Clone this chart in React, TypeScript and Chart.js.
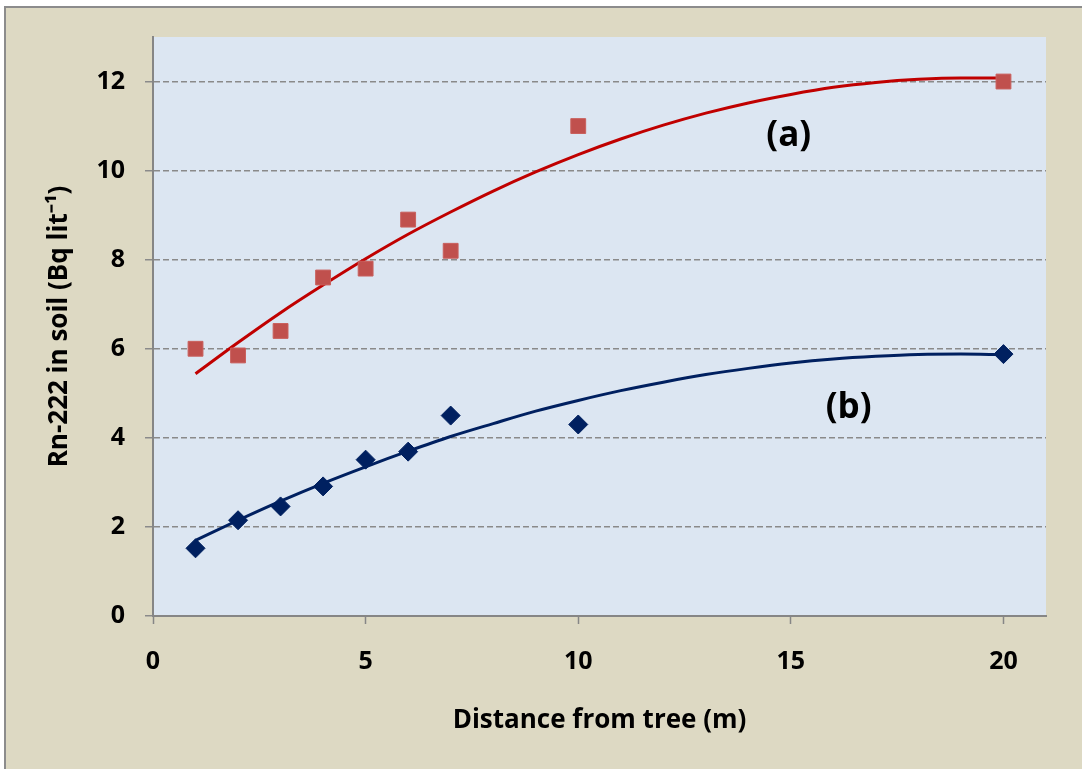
import React, { useEffect, useRef } from "react";
import { Chart, registerables } from "chart.js";

Chart.register(...registerables);

// Measured data points
const xA = [1, 2, 3, 4, 5, 6, 7, 10, 20];
const yA = [6.0, 5.85, 6.4, 7.6, 7.8, 8.9, 8.2, 11.0, 12.0];
const xB = [1, 2, 3, 4, 5, 6, 7, 10, 20];
const yB = [1.52, 2.15, 2.46, 2.91, 3.51, 3.69, 4.5, 4.3, 5.88];

// Trend curves
const trendX = [1, 2, 3, 4, 5, 6, 7, 8, 9, 10, 11, 12, 13, 14, 15, 16, 17, 18, 19, 20];
const trendA = [5.44, 6.14, 6.81, 7.43, 8.02, 8.57, 9.07, 9.54, 9.97, 10.36, 10.71, 11.02, 11.29, 11.52, 11.71, 11.87, 11.98, 12.05, 12.08, 12.08];
const trendB = [1.7, 2.15, 2.58, 2.98, 3.35, 3.7, 4.03, 4.32, 4.6, 4.84, 5.06, 5.25, 5.42, 5.56, 5.68, 5.77, 5.83, 5.87, 5.88, 5.87];

// Curve labels
const labelText = ["(a)", "(b)"];
const labelX = [14.95, 16.36];
const labelY = [10.78, 4.66];

const yTitle = "Rn-222 in soil (Bq lit\u207B\u00B9)";
const xTitle = "Distance from tree (m)";

const FONT = "'Open Sans'";

export default function App() {
  const ref = useRef<HTMLCanvasElement>(null);

  useEffect(() => {
    if (!ref.current) return;
    const bgPlugin = {
      id: "bg",
      beforeDraw(chart: any) {
        const { ctx, chartArea } = chart;
        ctx.save();
        ctx.fillStyle = "#ddd9c3";
        ctx.fillRect(0, 0, chart.width, chart.height);
        ctx.fillStyle = "#dce6f2";
        ctx.fillRect(chartArea.left, chartArea.top, chartArea.right - chartArea.left, chartArea.bottom - chartArea.top);
        ctx.restore();
      },
    };
    const labelPlugin = {
      id: "lbl",
      afterDatasetsDraw(chart: any) {
        const { ctx } = chart;
        const xs = chart.scales.x;
        const ys = chart.scales.y;
        ctx.save();
        ctx.font = `bold 35px ${FONT}`;
        ctx.fillStyle = "#000";
        ctx.textAlign = "center";
        ctx.textBaseline = "middle";
        labelText.forEach((t, i) => {
          ctx.fillText(t, xs.getPixelForValue(labelX[i]), ys.getPixelForValue(labelY[i]));
        });
        ctx.restore();
      },
    };

    const tickFont = { family: FONT, size: 25, weight: "bold" as const };
    const titleFont = { family: FONT, size: 26, weight: "bold" as const };

    const chart = new Chart(ref.current, {
      type: "scatter",
      data: {
        datasets: [
          {
            label: "a",
            data: xA.map((x, i) => ({ x, y: yA[i] })),
            pointStyle: "rect",
            pointRadius: 10.5,
            backgroundColor: "#c0504d",
            borderColor: "#c9605d",
            borderWidth: 1,
            showLine: false,
            order: 0,
          },
          {
            label: "b",
            data: xB.map((x, i) => ({ x, y: yB[i] })),
            pointStyle: "rectRot",
            pointRadius: 9.5,
            backgroundColor: "#002060",
            borderColor: "#002060",
            borderWidth: 1,
            showLine: false,
            order: 0,
          },
          {
            label: "trend a",
            data: trendX.map((x, i) => ({ x, y: trendA[i] })),
            showLine: true,
            pointRadius: 0,
            borderColor: "#c00000",
            borderWidth: 3,
            cubicInterpolationMode: "monotone",
            order: 2,
          },
          {
            label: "trend b",
            data: trendX.map((x, i) => ({ x, y: trendB[i] })),
            showLine: true,
            pointRadius: 0,
            borderColor: "#002060",
            borderWidth: 3,
            cubicInterpolationMode: "monotone",
            order: 2,
          },
        ],
      },
      options: {
        animation: false,
        responsive: false,
        devicePixelRatio: 1,
        layout: { padding: { top: 29, right: 36, bottom: 0, left: 0 } },
        plugins: { legend: { display: false }, tooltip: { enabled: false } },
        scales: {
          x: {
            type: "linear",
            min: 0,
            max: 21,
            afterBuildTicks: (s: any) => {
              s.ticks = s.ticks.filter((t: any) => t.value % 5 === 0);
            },
            ticks: { stepSize: 5, includeBounds: false, color: "#000", font: tickFont, padding: 23, maxRotation: 0, autoSkip: false },
            grid: { drawOnChartArea: false, drawTicks: true, tickLength: 8, color: "#868686", tickColor: "#868686", tickWidth: 1.5 },
            border: { color: "#868686", width: 2 },
            title: { display: true, text: xTitle, color: "#000", font: titleFont, padding: { top: 0, bottom: 33 } },
            afterFit: (s: any) => {
              s.height = 153;
              s.paddingLeft = 0;
              s.paddingRight = 0;
            },
          },
          y: {
            type: "linear",
            min: 0,
            max: 13,
            afterBuildTicks: (s: any) => {
              s.ticks = s.ticks.filter((t: any) => t.value % 2 === 0);
            },
            ticks: { stepSize: 2, includeBounds: false, color: "#000", font: tickFont, padding: 20, autoSkip: false },
            grid: { color: "#8a8a8a", lineWidth: 1.5, tickLength: 8, tickColor: "#8a8a8a", tickWidth: 1.5 },
            border: { color: "#868686", width: 2, dash: [6, 3] },
            title: { display: true, text: yTitle, color: "#000", font: titleFont, padding: { top: 38, bottom: 0 } },
            afterFit: (s: any) => {
              s.width = 147;
              s.paddingTop = 0;
              s.paddingBottom = 0;
            },
          },
        },
      },
      plugins: [bgPlugin, labelPlugin],
    } as any);
    return () => chart.destroy();
  }, []);

  return (
    <div
      style={{
        position: "fixed",
        left: 4,
        top: 6,
        width: 1078,
        height: 763,
        borderLeft: "2px solid #8c8c8c",
        borderTop: "2px solid #8c8c8c",
        background: "#ddd9c3",
        boxSizing: "border-box",
        overflow: "hidden",
      }}
    >
      <canvas ref={ref} width={1076} height={761} style={{ display: "block", width: 1076, height: 761 }} />
    </div>
  );
}
